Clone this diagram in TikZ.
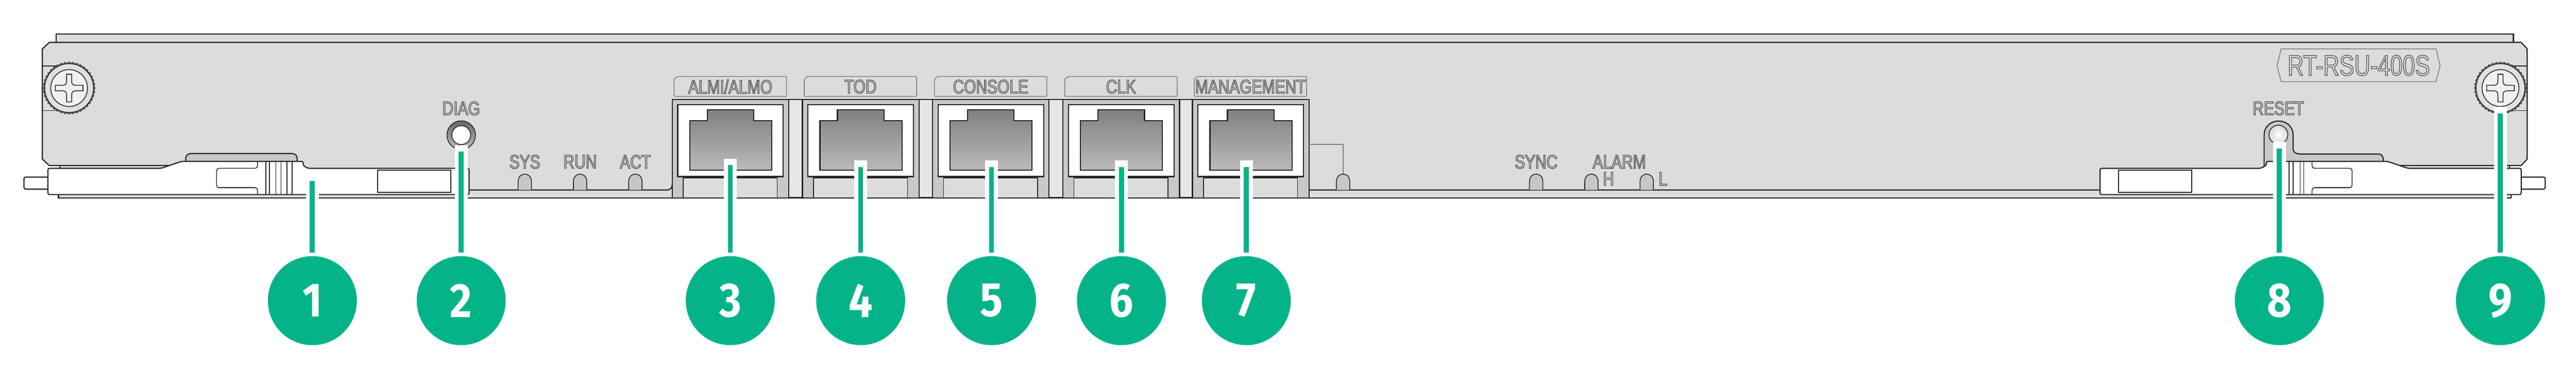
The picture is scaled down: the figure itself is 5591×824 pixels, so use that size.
\documentclass[tikz,border=0pt]{standalone}
\usepackage{fontspec}
\newfontfamily\silkfont[FakeStretch=0.8]{Liberation Sans}
\newfontfamily\plateFont[FakeStretch=0.77]{Liberation Sans}
\newfontfamily\numfont[FakeStretch=0.88]{Fira Sans}
\newcommand{\silktext}[1]{\special{pdf:code 1 Tr 0.4 w 0.3 G}#1\special{pdf:code 0 Tr}}
\definecolor{panelgray}{HTML}{DCDCDC}
\definecolor{capgray}{HTML}{C8C8C8}
\definecolor{sepgray}{HTML}{E6E6E6}
\definecolor{tabgray}{HTML}{808080}
\definecolor{leadgreen}{HTML}{04B488}
\tikzset{
  body/.style={draw=black!85, fill=panelgray, line width=0.7pt},
  hood/.style={draw=black!85, fill=capgray, line width=0.7pt},
  whitebody/.style={draw=black!85, fill=white, line width=0.7pt, rounded corners=1pt},
  edge/.style={draw=black!85, line width=0.5pt},
  silk/.style={font=\silkfont\fontsize{11.9}{12}\selectfont, inner sep=0pt},
  tabline/.style={draw=tabgray, fill=panelgray, line width=0.5pt},
  led/.style={draw=black!85, line width=0.5pt, left color=black!22, middle color=white, right color=black!22},
  leader/.style={draw=leadgreen, line width=0.11cm},
  halo/.style={draw=white, line width=0.28cm, shorten <=-0.14cm},
  numcircle/.style={circle, fill=leadgreen, text=white, minimum size=0.193cm*10, inner sep=0pt, outer sep=2pt,
    font=\numfont\bfseries\fontsize{29.7}{30}\selectfont},
}
\begin{document}
\begin{tikzpicture}[x=0.01cm, y=-0.01cm]
  \useasboundingbox (0,0) rectangle (5591,824);
  % Rails behind the panel
  \draw[body] (122,74) rectangle (5455,92);
  \draw[body] (130,355) rectangle (5447,370);
  \draw[body] (127,400) rectangle (5450,429);
  % Panel, the hidden bends lie under the handles and the first port
  \draw[body] (107,92) -- (5472,92) -- (5485,106) -- (5485,345) -- (5472,359) -- (5200,359) -- (5200,380)
    -- (4700,380) -- (4700,412) -- (1500,412) -- (1500,400) -- (1459,400)
    .. controls (1459,408) and (1455,412) .. (1447,412) -- (900,412) -- (900,380) -- (500,380) -- (368,380)
    -- (368,359) -- (107,359) -- (92,345) -- (92,106) -- cycle;
  % Lines beside the screws
  \draw[edge] (92,143) -- (125,143) (92,240) -- (125,240);
  \draw[edge] (5455,143) -- (5485,143) (5455,240) -- (5485,240);
  % Screws
  \foreach \sx in {150,5427} {
    \begin{scope}[shift={(\sx,191)}]
      \foreach \a in {0,9,...,351}
        \draw[black!85, fill=black!50, line width=0.3pt] (\a:53) circle[radius=3.5];
      \draw[edge, left color=black!12, middle color=white, right color=black!12] (0,0) circle[radius=53];
      \draw[edge, left color=black!6, middle color=white, right color=black!6] (0,0) circle[radius=40];
      \draw[edge, left color=black!6, middle color=white, right color=black!6] (-5.5,-30) -- (5.5,-30) -- (5.5,-16)
        .. controls (5.5,-8) and (8,-6) .. (16,-6) -- (30,-6) -- (30,6) -- (16,6)
        .. controls (8,6) and (5.5,8) .. (5.5,16) -- (5.5,30) -- (-5.5,30) -- (-5.5,16)
        .. controls (-5.5,8) and (-8,6) .. (-16,6) -- (-30,6) -- (-30,-6) -- (-16,-6)
        .. controls (-8,-6) and (-5.5,-8) .. (-5.5,-16) -- cycle;
    \end{scope}
  }
  % Left handle
  \draw[whitebody] (52,384) rectangle (110,410);
  \draw[hood, rounded corners=3pt] (403,352) -- (403,333) -- (645,333) -- (645,352);
  \draw[whitebody] (350,365) -- (104,365) -- (104,422) -- (1018,422) -- (1018,365) -- (668,365) -- (658,359)
    -- (658,350) -- (394,350) -- cycle;
  \draw[edge, rounded corners=1.5pt] (559,350) -- (559,365) -- (470,365) -- (470,407) -- (559,407) -- (559,422);
  \foreach \gx in {577,585,599,610,623,634}
    \draw[edge] (\gx,350) -- (\gx,422);
  \draw[whitebody, rounded corners=0pt] (820,369) rectangle (978,417);
  % Right handle
  \draw[whitebody] (5466,384) rectangle (5524,410);
  \draw[hood] (4914,366) -- (4914,294) .. controls (4914,252) and (4977,252) .. (4977,294) -- (4977,322)
    .. controls (4977,330) and (4983,334) .. (4991,334) -- (5163,334) .. controls (5170,334) and (5173,340) .. (5173,352);
  \draw[whitebody] (5226,365) -- (5472,365) -- (5472,422) -- (4558,422) -- (4558,365) -- (4907,365) -- (4919,358)
    -- (4919,350) -- (5182,350) -- cycle;
  \draw[edge, rounded corners=1.5pt] (5018,350) -- (5018,365) -- (5105,365) -- (5105,407) -- (5018,407) -- (5018,422);
  \foreach \gx in {4968,4977,4992,5000}
    \draw[edge] (\gx,350) -- (\gx,422);
  \draw[whitebody, rounded corners=0pt] (4598,369) rectangle (4757,417);
  % Buttons
  \draw[edge, top color=black!60, bottom color=black!25] (1001,293) circle[radius=31];
  \draw[edge, fill=white] (1001,293) circle[radius=20.5];
  \draw[edge, inner color=white, outer color=black!15] (4945,292) circle[radius=20.5];
  % Ports
  \foreach \px in {1459,1741.5,2024,2307}
    \draw[edge, fill=sepgray] (\px+253,216) rectangle (\px+283,428);
  \foreach \px/\ptxt/\pname in {1459/ALMI\slash ALMO/almi, 1741.5/TOD/tod, 2024/CONSOLE/console, 2307/CLK/clk, 2588/MANAGEMENT/mgmt} {
    \draw[hood] (\px,216) rectangle (\px+253,429);
    \draw[draw=black!85, fill=white, line width=0.7pt] (\px+12,227) rectangle (\px+241,383);
    \draw[draw=black!85, line width=0.7pt, top color=black!50, bottom color=black!27]
      (\px+38,369) -- (\px+38,262) -- (\px+76,262) -- (\px+76,238) -- (\px+177,238) -- (\px+177,262)
      -- (\px+216,262) -- (\px+216,369) -- cycle;
    \draw[edge, fill=panelgray] (\px+24,428) -- (\px+24,386) -- (\px+228,386) -- (\px+228,428);
    \draw[tabline, rounded corners=0.4pt] (\px+4,209) -- (\px+4,172) -- (\px+11,166) -- (\px+248,166) -- (\px+248,209) -- cycle;
    \node[silk] (lbl\pname) at (\px+126,188) {\silktext{\ptxt}};
  }
  % Thin line to the unmarked LED
  \draw[tabline, fill=none] (2841,313) -- (2915,313) -- (2915,378);
  % LEDs
  \foreach \lx in {1139,1259,1379,2915,3334,3454,3574}
    \draw[led] (\lx-14.5,412) -- (\lx-14.5,394) .. controls (\lx-14.5,372) and (\lx+14.5,372) .. (\lx+14.5,394) -- (\lx+14.5,412);
  % Panel texts
  \foreach \tx/\ty/\ttxt/\tname in {1001/235/DIAG/diag, 1139/351/SYS/sys, 1259/351/RUN/run, 1379/351/ACT/act,
      3334/351/SYNC/sync, 3514.5/351/ALARM/alarm, 3491/388/H/alarmh, 3609/388/L/alarml, 4945/235/RESET/reset}
    \node[silk] (lbl\tname) at (\tx,\ty) {\silktext{\ttxt}};
  % Name plate
  \draw[tabline] (4942,142) -- (4951,106) -- (5287,106) -- (5296,142) -- (5287,177) -- (4951,177) -- cycle;
  \node[silk, font=\plateFont\fontsize{17.9}{18}\selectfont] (plate) at (5119.5,142) {\silktext{RT-RSU-400S}};
  % Numbered callouts
  \foreach \cx/\cy/\cn in {678/393/1, 1001/329/2, 1585/358/3, 1868/362/4, 2152/362/5, 2434/362/6, 2705/362/7, 4947/322/8, 5427/246/9} {
    \node[numcircle] (num\cn) at (\cx,652) {\cn};
    \coordinate (tip\cn) at (\cx,\cy);
    \draw[halo] (tip\cn) -- (num\cn);
    \draw[leader] (tip\cn) -- (num\cn);
  }
\end{tikzpicture}
\end{document}
